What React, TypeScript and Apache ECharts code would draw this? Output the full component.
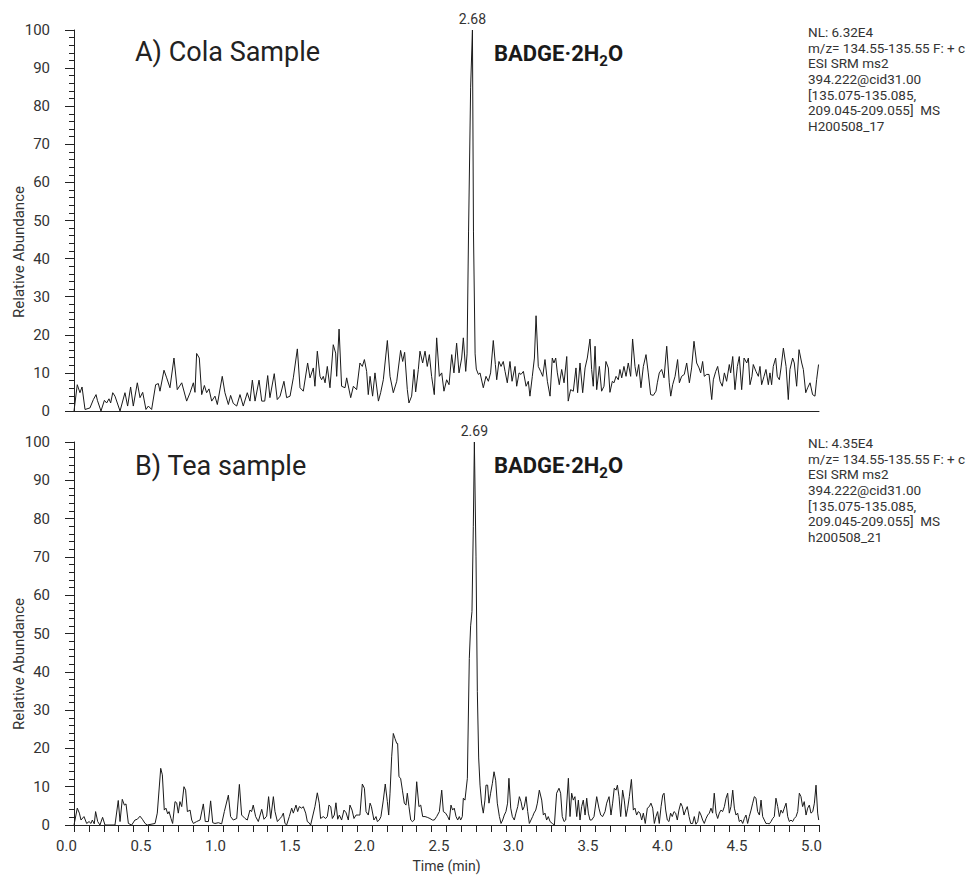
import React, { useEffect, useRef } from "react";
import * as echarts from "echarts";

// Panel A: Cola sample, [time (min), relative abundance (%)]
const colaTrace: [number, number][] = [
  [0, 0], [0.022, 6.9], [0.04, 4.8], [0.054, 6.3], [0.074, 0.4], [0.107, 0.8], [0.13, 3.0], [0.148, 4.3], [0.157, 2.8],
  [0.181, 0], [0.204, 2.8], [0.219, 2.1], [0.235, 3.2], [0.246, 2.1], [0.26, 4.8], [0.275, 3.9], [0.309, 0], [0.342, 4.8],
  [0.36, 1.3], [0.38, 6.3], [0.398, 1.3], [0.425, 7.4], [0.443, 3.5], [0.461, 4.9], [0.483, 0.4], [0.499, 1.3], [0.521, 0.4],
  [0.548, 6.9], [0.566, 7.2], [0.577, 5.2], [0.604, 10.7], [0.622, 8.7], [0.644, 6.1], [0.671, 13.9], [0.693, 5.6], [0.723, 7.4],
  [0.756, 2.6], [0.779, 4.8], [0.801, 7.4], [0.812, 4.9], [0.823, 15.1], [0.841, 13.9], [0.857, 4.3], [0.875, 6.7], [0.89, 4.8],
  [0.906, 5.8], [0.924, 2.6], [0.946, 3.9], [0.962, 1.7], [0.995, 9.1], [1.013, 4.8], [1.036, 1.7], [1.051, 4.1], [1.069, 2.0],
  [1.092, 1.3], [1.114, 4.3], [1.136, 1.3], [1.163, 4.8], [1.181, 2.6], [1.197, 8.1], [1.215, 2.6], [1.242, 8.1], [1.26, 2.6],
  [1.28, 2.6], [1.3, 9.3], [1.315, 3.5], [1.344, 9.8], [1.364, 3.0], [1.383, 3.9], [1.409, 7.8], [1.427, 3.5], [1.45, 3.9],
  [1.472, 8.7], [1.499, 16.3], [1.517, 6.1], [1.539, 5.2], [1.568, 12.6], [1.584, 8.7], [1.606, 11.3], [1.617, 6.5], [1.633, 15.7],
  [1.651, 9.1], [1.662, 8.2], [1.673, 9.1], [1.685, 7.4], [1.7, 11.7], [1.718, 6.1], [1.74, 17.4], [1.756, 15.2], [1.763, 9.1],
  [1.779, 21.5], [1.796, 6.5], [1.819, 6.1], [1.83, 8.7], [1.857, 3.5], [1.875, 6.5], [1.897, 5.6], [1.919, 12.6], [1.935, 11.7],
  [1.949, 13.5], [1.964, 10.4], [1.975, 4.3], [1.987, 9.1], [2.004, 3.9], [2.02, 10.0], [2.043, 2.6], [2.058, 4.8], [2.076, 8.2],
  [2.103, 18.5], [2.121, 9.1], [2.143, 4.8], [2.166, 7.8], [2.192, 15.9], [2.206, 13.0], [2.219, 15.4], [2.237, 5.6], [2.248, 2.1],
  [2.266, 3.9], [2.282, 10.9], [2.293, 5.0], [2.311, 10.9], [2.322, 15.7], [2.34, 12.6], [2.356, 15.7], [2.371, 11.7], [2.385, 14.8],
  [2.4, 9.1], [2.418, 4.3], [2.434, 19.2], [2.452, 9.1], [2.468, 10.0], [2.483, 5.2], [2.501, 8.2], [2.517, 6.9], [2.535, 14.8],
  [2.55, 10.0], [2.568, 17.8], [2.584, 10.0], [2.602, 13.9], [2.613, 19.2], [2.629, 10.4], [2.638, 15], [2.648, 47], [2.662, 85],
  [2.674, 100], [2.681, 47], [2.692, 15], [2.7, 11], [2.714, 9.6], [2.725, 10.0], [2.747, 6.1], [2.765, 9.1], [2.781, 7.8],
  [2.796, 10.0], [2.814, 18.5], [2.828, 12.2], [2.837, 8.2], [2.852, 13.0], [2.866, 11.7], [2.881, 13.0], [2.893, 10.4], [2.908, 7.4],
  [2.926, 13.0], [2.94, 7.8], [2.96, 11.7], [2.971, 6.5], [2.987, 10.0], [3.0, 9.6], [3.016, 10.4], [3.034, 6.5], [3.049, 7.8],
  [3.06, 3.9], [3.076, 9.1], [3.09, 13.9], [3.101, 25.0], [3.116, 11.7], [3.132, 10.4], [3.146, 9.1], [3.161, 13.5], [3.177, 7.8],
  [3.195, 3.9], [3.21, 13.9], [3.221, 12.6], [3.233, 13.9], [3.244, 10.0], [3.257, 6.9], [3.273, 10.9], [3.289, 7.4], [3.307, 14.3],
  [3.317, 2.6], [3.333, 5.6], [3.351, 5.2], [3.369, 11.3], [3.38, 4.8], [3.396, 12.6], [3.414, 4.8], [3.43, 11.3], [3.445, 13.9],
  [3.463, 18.9], [3.474, 10.9], [3.485, 6.5], [3.497, 17.0], [3.508, 5.6], [3.526, 11.7], [3.541, 5.2], [3.557, 6.5], [3.57, 13.0],
  [3.586, 11.3], [3.597, 4.9], [3.613, 7.8], [3.624, 7.4], [3.638, 9.1], [3.653, 8.2], [3.664, 10.9], [3.676, 8.7], [3.691, 11.7],
  [3.705, 9.1], [3.72, 12.6], [3.736, 9.1], [3.749, 18.9], [3.765, 11.7], [3.776, 9.1], [3.79, 12.2], [3.805, 6.1], [3.821, 11.7],
  [3.839, 14.8], [3.854, 10.0], [3.87, 4.3], [3.888, 4.1], [3.906, 5.2], [3.915, 7.4], [3.928, 10.0], [3.944, 10.9], [3.96, 8.7],
  [3.978, 17.0], [3.995, 7.4], [4.005, 3.9], [4.018, 6.9], [4.034, 9.1], [4.051, 13.5], [4.063, 7.4], [4.078, 9.1], [4.096, 9.6],
  [4.112, 12.6], [4.13, 7.4], [4.145, 11.3], [4.161, 18.3], [4.179, 12.6], [4.195, 11.3], [4.206, 10.0], [4.219, 13.0], [4.23, 9.1],
  [4.246, 9.6], [4.262, 9.6], [4.28, 3.0], [4.291, 8.2], [4.307, 10.4], [4.32, 11.7], [4.336, 7.8], [4.351, 6.5], [4.365, 10.0],
  [4.38, 7.8], [4.398, 12.2], [4.407, 10.0], [4.421, 14.3], [4.436, 5.6], [4.452, 11.7], [4.465, 14.3], [4.481, 5.6], [4.497, 13.9],
  [4.515, 12.6], [4.526, 13.9], [4.537, 6.9], [4.55, 9.1], [4.559, 12.2], [4.577, 10.4], [4.593, 9.1], [4.604, 11.7], [4.615, 6.9],
  [4.631, 9.1], [4.644, 10.9], [4.66, 6.9], [4.671, 10.0], [4.682, 6.9], [4.693, 11.7], [4.709, 13.9], [4.72, 9.1], [4.734, 8.2],
  [4.745, 11.3], [4.761, 16.5], [4.779, 11.7], [4.794, 3.0], [4.805, 10.9], [4.823, 13.9], [4.834, 12.6], [4.85, 6.5], [4.866, 16.1],
  [4.884, 12.6], [4.895, 10.9], [4.911, 4.8], [4.924, 6.1], [4.94, 7.4], [4.957, 4.3], [4.973, 3.9], [4.984, 8.2], [4.997, 12.2],
];

// Panel B: Tea sample, [time (min), relative abundance (%)]
const teaTrace: [number, number][] = [
  [0, 0], [0.022, 4.4], [0.036, 3.1], [0.047, 1.3], [0.067, 2.2], [0.085, 0.4], [0.101, 0.9], [0.114, 0.4], [0.123, 1.3],
  [0.136, 0.3], [0.145, 3.5], [0.159, 0.9], [0.174, 0], [0.192, 2.0], [0.208, 0], [0.275, 0], [0.297, 6.4], [0.309, 0.9],
  [0.324, 6.7], [0.338, 5.2], [0.349, 5.5], [0.365, 0.4], [0.387, 0], [0.409, 1.3], [0.425, 1.5], [0.443, 2.3], [0.459, 1.5],
  [0.477, 0.4], [0.492, 0], [0.544, 0.4], [0.559, 3.1], [0.582, 14.8], [0.593, 13.1], [0.606, 3.9], [0.617, 4.4], [0.629, 2.9],
  [0.638, 3.5], [0.651, 1.7], [0.662, 0.4], [0.678, 6.1], [0.689, 5.8], [0.7, 3.1], [0.711, 6.1], [0.723, 4.8], [0.738, 10.0],
  [0.749, 9.1], [0.761, 3.5], [0.779, 3.9], [0.79, 1.3], [0.801, 0.4], [0.823, 0.9], [0.846, 1.3], [0.868, 5.5], [0.881, 0.9],
  [0.902, 0.9], [0.917, 6.3], [0.931, 0.6], [0.946, 0.4], [0.969, 0.6], [0.991, 0.3], [1.009, 3.5], [1.036, 7.8], [1.051, 2.2],
  [1.069, 1.3], [1.092, 1.7], [1.11, 10.6], [1.125, 2.6], [1.148, 1.7], [1.163, 1.3], [1.181, 3.9], [1.192, 3.5], [1.203, 5.2],
  [1.219, 2.2], [1.237, 0.9], [1.26, 4.1], [1.275, 1.5], [1.293, 2.3], [1.306, 7.4], [1.32, 1.7], [1.338, 7.4], [1.349, 3.5],
  [1.365, 0.9], [1.383, 1.7], [1.394, 2.2], [1.405, 3.1], [1.416, 0.4], [1.427, 0], [1.445, 2.2], [1.461, 4.4], [1.472, 3.1],
  [1.49, 5.2], [1.501, 3.5], [1.512, 4.8], [1.528, 4.4], [1.539, 4.8], [1.555, 3.1], [1.566, 0.9], [1.577, 0.6], [1.588, 0],
  [1.617, 4.8], [1.633, 8.4], [1.646, 5.7], [1.655, 1.7], [1.673, 2.2], [1.689, 1.7], [1.7, 2.2], [1.711, 5.2], [1.723, 4.8],
  [1.734, 1.7], [1.747, 2.6], [1.758, 5.8], [1.77, 1.5], [1.781, 2.6], [1.796, 1.3], [1.812, 3.9], [1.826, 3.2], [1.841, 1.3],
  [1.852, 5.2], [1.866, 3.9], [1.879, 1.7], [1.893, 2.6], [1.908, 2.6], [1.919, 2.6], [1.935, 10.7], [1.949, 9.6], [1.96, 3.5],
  [1.975, 2.6], [1.987, 5.7], [1.996, 4.8], [2.013, 1.3], [2.027, 2.2], [2.036, 0.9], [2.049, 1.3], [2.06, 2.2], [2.076, 6.5],
  [2.089, 10.7], [2.103, 6.1], [2.112, 2.6], [2.121, 8.3], [2.132, 17.8], [2.143, 23.9], [2.154, 22.6], [2.166, 21.3], [2.172, 21.3],
  [2.181, 12.6], [2.192, 12.2], [2.204, 9.1], [2.217, 5.7], [2.228, 5.2], [2.237, 8.3], [2.248, 4.8], [2.26, 1.3], [2.271, 0.9],
  [2.284, 1.3], [2.3, 11.3], [2.315, 4.8], [2.327, 5.2], [2.34, 2.2], [2.356, 2.2], [2.371, 2.0], [2.389, 1.7], [2.405, 1.3],
  [2.418, 1.3], [2.434, 2.2], [2.452, 3.5], [2.468, 9.1], [2.479, 3.5], [2.494, 3.1], [2.508, 2.2], [2.519, 1.3], [2.53, 5.2],
  [2.541, 3.9], [2.552, 4.4], [2.564, 2.2], [2.575, 1.3], [2.586, 2.2], [2.595, 1.3], [2.606, 2.2], [2.613, 7.0], [2.624, 6.5],
  [2.64, 12.2], [2.653, 43.5], [2.662, 52], [2.671, 55.7], [2.68, 78], [2.687, 100], [2.698, 70], [2.707, 34.8], [2.716, 17.5],
  [2.725, 10.4], [2.736, 5.5], [2.747, 3.1], [2.758, 6.5], [2.765, 10.4], [2.776, 10.4], [2.785, 5.7], [2.796, 8.3], [2.808, 10.9],
  [2.819, 13.9], [2.83, 11.7], [2.841, 5.7], [2.855, 2.2], [2.866, 0.4], [2.877, 1.3], [2.888, 2.6], [2.899, 3.5], [2.91, 5.7],
  [2.919, 12.2], [2.931, 4.4], [2.942, 2.2], [2.955, 1.3], [2.966, 3.1], [2.978, 4.8], [2.989, 7.4], [3.0, 6.1], [3.011, 3.9],
  [3.022, 4.8], [3.034, 7.4], [3.045, 3.5], [3.056, 0.4], [3.067, 1.3], [3.078, 2.2], [3.087, 3.1], [3.099, 3.9], [3.11, 5.7],
  [3.123, 9.1], [3.139, 6.5], [3.15, 2.6], [3.161, 3.1], [3.172, 1.3], [3.183, 2.2], [3.195, 0.9], [3.21, 0.4], [3.224, 0],
  [3.239, 8.3], [3.255, 9.6], [3.266, 8.3], [3.277, 2.2], [3.289, 0.9], [3.3, 1.3], [3.318, 12.2], [3.329, 2.2], [3.34, 8.3],
  [3.351, 6.5], [3.362, 7.4], [3.374, 2.2], [3.385, 6.5], [3.396, 1.3], [3.407, 4.8], [3.418, 6.5], [3.43, 2.6], [3.441, 7.0],
  [3.452, 3.1], [3.463, 1.3], [3.474, 1.3], [3.49, 2.2], [3.508, 7.4], [3.523, 4.4], [3.535, 2.6], [3.548, 2.2], [3.564, 3.5],
  [3.575, 5.7], [3.591, 7.4], [3.604, 2.6], [3.615, 5.7], [3.626, 9.6], [3.638, 9.1], [3.647, 10.4], [3.658, 7.4], [3.669, 2.2],
  [3.682, 9.1], [3.693, 6.5], [3.705, 2.2], [3.716, 4.4], [3.727, 7.4], [3.741, 11.9], [3.754, 3.9], [3.765, 4.4], [3.776, 2.6],
  [3.787, 3.5], [3.799, 3.1], [3.81, 1.3], [3.821, 3.1], [3.834, 0.4], [3.848, 4.4], [3.861, 4.8], [3.872, 5.7], [3.884, 4.4],
  [3.895, 0.4], [3.906, 2.2], [3.917, 3.5], [3.928, 0.4], [3.94, 4.8], [3.951, 7.8], [3.96, 8.3], [3.971, 3.9], [3.982, 1.3],
  [3.993, 0.9], [4.004, 3.1], [4.015, 2.2], [4.027, 3.5], [4.038, 3.1], [4.049, 1.3], [4.06, 3.9], [4.072, 5.7], [4.083, 4.8],
  [4.094, 2.6], [4.105, 3.9], [4.116, 4.8], [4.128, 2.2], [4.139, 0.4], [4.152, 0.4], [4.163, 2.2], [4.174, 0.2], [4.186, 0.9],
  [4.197, 3.5], [4.208, 2.6], [4.219, 1.3], [4.23, 0.4], [4.242, 1.7], [4.253, 2.6], [4.264, 3.1], [4.275, 4.4], [4.286, 3.1],
  [4.297, 8.3], [4.309, 3.1], [4.32, 1.7], [4.331, 3.1], [4.342, 3.9], [4.353, 3.5], [4.365, 4.8], [4.376, 7.0], [4.387, 8.3],
  [4.398, 3.1], [4.409, 4.8], [4.421, 9.1], [4.432, 4.4], [4.443, 2.6], [4.454, 3.1], [4.465, 0.9], [4.477, 1.3], [4.488, 0.4],
  [4.499, 1.7], [4.51, 2.6], [4.521, 0.4], [4.532, 2.2], [4.544, 3.9], [4.555, 5.7], [4.566, 7.4], [4.577, 7.0], [4.588, 3.5],
  [4.6, 2.6], [4.611, 6.5], [4.622, 2.2], [4.633, 1.3], [4.644, 0.4], [4.656, 0.4], [4.667, 0.3], [4.678, 0.9], [4.689, 1.7],
  [4.7, 2.2], [4.711, 7.0], [4.723, 4.8], [4.734, 2.2], [4.745, 3.9], [4.756, 3.1], [4.767, 4.4], [4.779, 5.7], [4.79, 2.2],
  [4.801, 0.9], [4.812, 1.3], [4.823, 0.9], [4.834, 1.7], [4.846, 2.2], [4.857, 3.5], [4.868, 8.3], [4.879, 7.4], [4.89, 4.8],
  [4.901, 6.1], [4.913, 2.6], [4.924, 4.4], [4.935, 5.2], [4.946, 3.1], [4.958, 3.5], [4.969, 5.7], [4.98, 10.4], [4.991, 3.1],
  [4.998, 1.3],
];

const peakLabels = ["2.68", "2.69"];
const panelTitles = ["A) Cola Sample", "B) Tea sample"];
const colaInfo = [
  "NL: 6.32E4",
  "m/z= 134.55-135.55 F: + c",
  "ESI SRM ms2",
  "394.222@cid31.00",
  "[135.075-135.085,",
  "209.045-209.055]  MS",
  "H200508_17",
];
const teaInfo = [
  "NL: 4.35E4",
  "m/z= 134.55-135.55 F: + c",
  "ESI SRM ms2",
  "394.222@cid31.00",
  "[135.075-135.085,",
  "209.045-209.055]  MS",
  "h200508_21",
];
const yAxisTitle = "Relative Abundance";
const xAxisTitle = "Time (min)";

const FONT = "Roboto, 'Liberation Sans', Arial, sans-serif";
const INK = "#222";
const TXT = "#333";

export default function App() {
  const ref = useRef<HTMLDivElement>(null);

  useEffect(() => {
    if (!ref.current) return;
    const chart = echarts.init(ref.current, null, { renderer: "svg" });

    const yAxisBase = (gridIndex: number) => ({
      type: "value",
      gridIndex,
      min: 0,
      max: 100,
      interval: 10,
      axisLine: { show: true, lineStyle: { color: INK, width: 1 } },
      axisTick: { show: true, length: 9, lineStyle: { color: INK, width: 1 } },
      minorTick: { show: true, splitNumber: 5, length: 5, lineStyle: { color: INK, width: 1 } },
      splitLine: { show: false },
      axisLabel: { fontSize: 15, color: TXT, margin: 24, fontFamily: FONT },
    });

    const peakMark = (label: string) => ({
      symbol: "circle",
      symbolSize: 1,
      silent: true,
      itemStyle: { color: "rgba(0,0,0,0)" },
      label: {
        show: true,
        position: "top",
        distance: 4,
        formatter: () => label,
        fontSize: 14,
        color: TXT,
        fontFamily: FONT,
      },
      data: [{ type: "max" }],
    });

    const infoText = (lines: string[], top: number) => ({
      type: "text",
      left: 808,
      top,
      silent: true,
      style: {
        text: lines.join("\n"),
        fontSize: 13.5,
        lineHeight: 15.7,
        fill: TXT,
        fontFamily: FONT,
      },
    });

    const compoundText = (top: number) => ({
      type: "text",
      left: 494,
      top,
      silent: true,
      style: {
        text: "{b|BADGE·2H}{s|2}{b|O}",
        fill: "#1a1a1a",
        fontFamily: FONT,
        rich: {
          b: { fontSize: 22, fontWeight: "bold", lineHeight: 23, verticalAlign: "top", fill: "#1a1a1a", fontFamily: FONT },
          s: {
            fontSize: 15,
            fontWeight: "bold",
            lineHeight: 26,
            verticalAlign: "bottom",
            fill: "#1a1a1a",
            fontFamily: FONT,
          },
        },
      },
    });

    const option: any = {
      animation: false,
      backgroundColor: "#fff",
      textStyle: { fontFamily: FONT },
      grid: [
        { left: 74, top: 30, width: 745, height: 381 },
        { left: 74, top: 442, width: 745, height: 383 },
      ],
      xAxis: [
        {
          type: "value",
          gridIndex: 0,
          min: 0,
          max: 5,
          interval: 0.5,
          axisLine: { show: true, onZero: false, lineStyle: { color: INK, width: 1 } },
          axisTick: { show: false },
          axisLabel: { show: false },
          splitLine: { show: false },
        },
        {
          type: "value",
          gridIndex: 1,
          min: 0,
          max: 5,
          interval: 0.5,
          axisLine: { show: true, onZero: false, lineStyle: { color: INK, width: 1 } },
          axisTick: { show: true, length: 7, lineStyle: { color: INK, width: 1 } },
          minorTick: { show: true, splitNumber: 5, length: 7, lineStyle: { color: INK, width: 1 } },
          splitLine: { show: false },
          axisLabel: {
            fontSize: 15,
            color: TXT,
            margin: 13,
            padding: [0, 15, 0, 0],
            fontFamily: FONT,
            formatter: (v: number) => v.toFixed(1),
          },
          name: xAxisTitle,
          nameLocation: "middle",
          nameGap: 34,
          nameTextStyle: { fontSize: 14, color: TXT, fontFamily: FONT },
        },
      ],
      yAxis: [yAxisBase(0), yAxisBase(1)],
      series: [
        {
          type: "line",
          xAxisIndex: 0,
          yAxisIndex: 0,
          data: colaTrace,
          symbol: "none",
          showSymbol: false,
          silent: true,
          lineStyle: { color: "#1a1a1a", width: 1 },
          markPoint: peakMark(peakLabels[0]),
        },
        {
          type: "line",
          xAxisIndex: 1,
          yAxisIndex: 1,
          data: teaTrace,
          symbol: "none",
          showSymbol: false,
          silent: true,
          lineStyle: { color: "#1a1a1a", width: 1 },
          markPoint: peakMark(peakLabels[1]),
        },
      ],
      graphic: [
        {
          type: "text",
          left: 135,
          top: 38,
          silent: true,
          style: { text: panelTitles[0], fontSize: 27, fill: "#222", fontFamily: FONT },
        },
        {
          type: "text",
          left: 135,
          top: 452,
          silent: true,
          style: { text: panelTitles[1], fontSize: 27, fill: "#222", fontFamily: FONT },
        },
        compoundText(42),
        compoundText(454),
        infoText(colaInfo, 24),
        infoText(teaInfo, 435),
        {
          type: "text",
          x: 19,
          y: 252,
          rotation: Math.PI / 2,
          silent: true,
          style: {
            text: yAxisTitle,
            fontSize: 15,
            fill: TXT,
            align: "center",
            verticalAlign: "middle",
            fontFamily: FONT,
          },
        },
        {
          type: "text",
          x: 19,
          y: 664,
          rotation: Math.PI / 2,
          silent: true,
          style: {
            text: yAxisTitle,
            fontSize: 15,
            fill: TXT,
            align: "center",
            verticalAlign: "middle",
            fontFamily: FONT,
          },
        },
      ],
    };

    chart.setOption(option);
    return () => chart.dispose();
  }, []);

  return (
    <div
      ref={ref}
      style={{ position: "absolute", left: 0, top: 0, width: 974, height: 875, background: "#fff" }}
    />
  );
}
